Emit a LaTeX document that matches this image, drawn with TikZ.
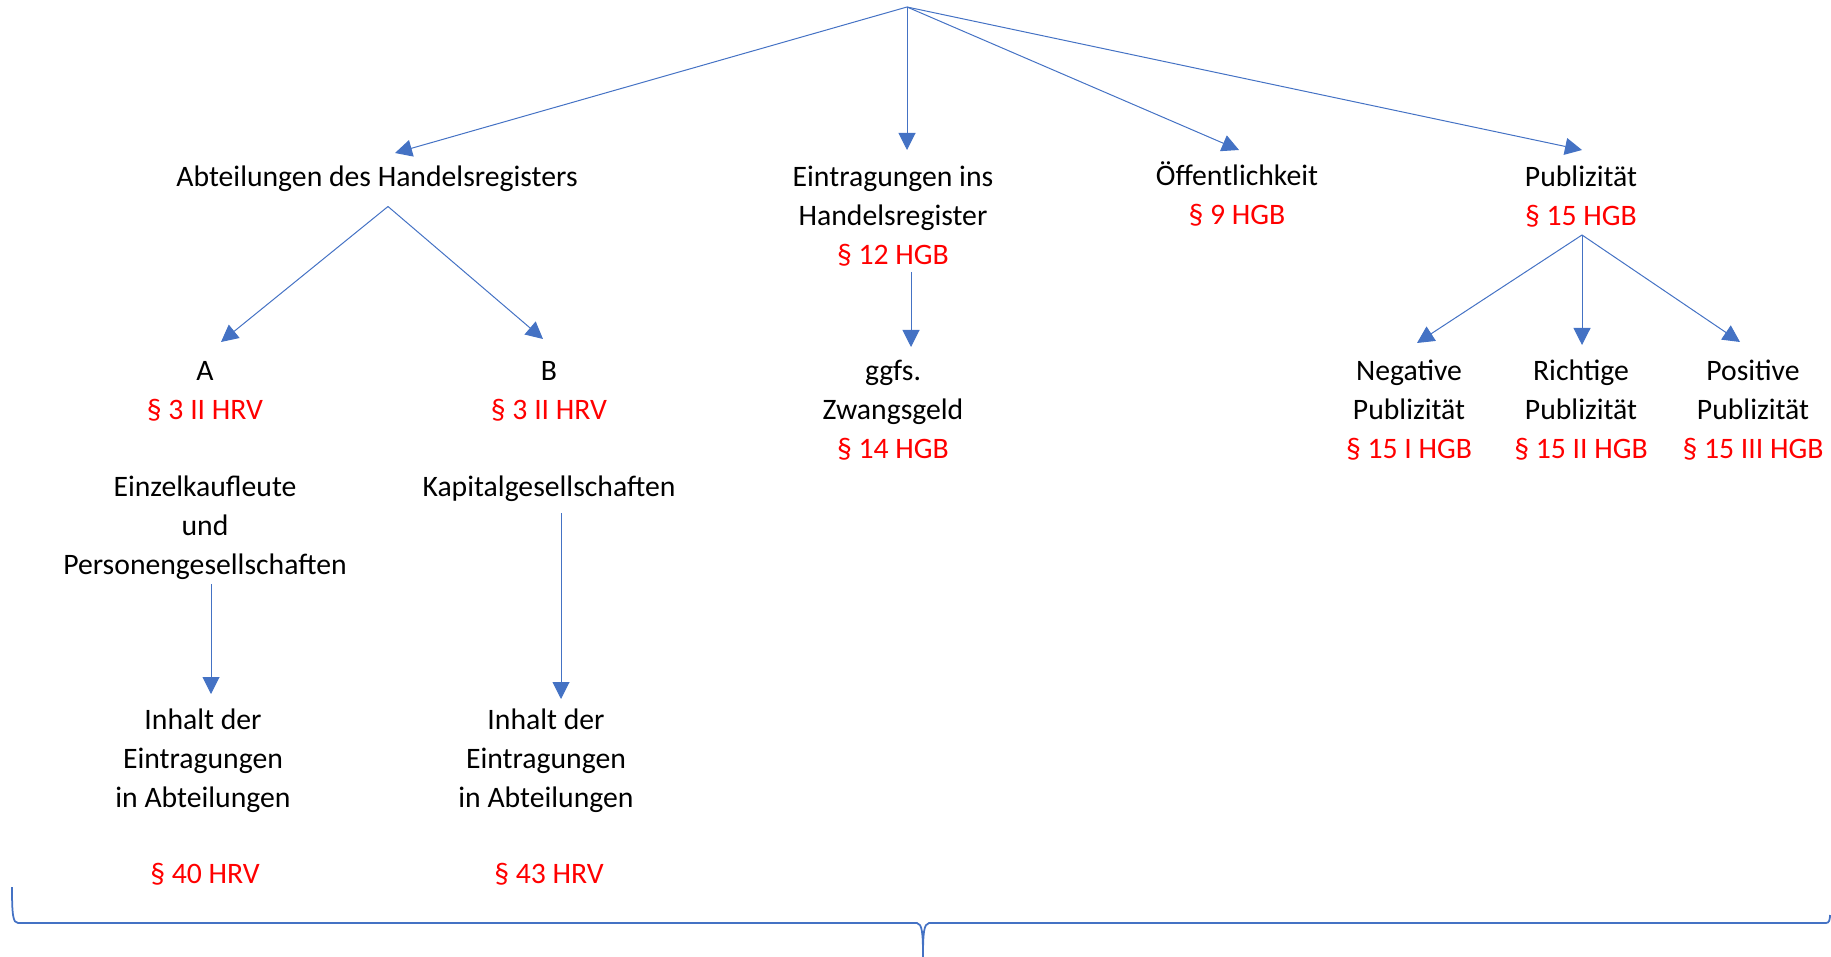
\documentclass[tikz,border=0pt]{standalone}
\usepackage{fontspec}
\setmainfont{Carlito}
\usepackage{xcolor}
\usetikzlibrary{arrows.meta,positioning,calc}

\definecolor{lineblue}{RGB}{68,114,196}
\newcommand{\para}[1]{\textcolor{red}{#1}}

\begin{document}
\begin{tikzpicture}[x=0.2mm, y=-0.2mm,
  txt/.style={align=center, inner sep=0pt, font=\fontsize{16.9}{22.2}\selectfont,
    execute at begin node=\strut, execute at end node=\strut},
  every node/.style={txt},
  arr/.style={-{Triangle[length=3.4mm,width=3.4mm]}, lineblue, line width=0.2mm}]

\useasboundingbox (0,0) rectangle (1831,957);

% Root point
\coordinate (top) at (907,7);

% First level
\node (abt) at (377,179) {Abteilungen des Handelsregisters};
\node (eintr) at (893,221.5) {Eintragungen ins\\Handelsregister\\\para{§ 12 HGB}};
\node (oeff) at (1237,198.5) {Öffentlichkeit\\\para{§ 9 HGB}};
\node (publ) at (1581,201.5) {Publizität\\\para{§ 15 HGB}};

\draw[arr] (top) -- ($(abt)+(18,-26)$);
\draw[arr] (top) -- ($(eintr)+(14,-71.5)$);
\draw[arr] (top) -- ($(oeff)+(2,-48.5)$);
\draw[arr] (top) -- ($(publ)+(1,-51.5)$);

% Register divisions A and B
\node (abtA) at (205,396.5) {A\\\para{§ 3 II HRV}};
\node (abtB) at (549,396.5) {B\\\para{§ 3 II HRV}};
\coordinate (gabel) at ($(abt)+(11,27.5)$);
\draw[arr] (gabel) -- ($(abtA)+(16,-54.5)$);
\draw[arr] (gabel) -- ($(abtB)+(-6,-57.5)$);

\node (einzel) at (205,531) {Einzelkaufleute\\und\\Personengesellschaften};
\node (kapital) at (549,489) {Kapitalgesellschaften};

% Contents of the entries
\node (inhA) at (203,764) {Inhalt der\\Eintragungen\\in Abteilungen};
\node (inhB) at (546,764) {Inhalt der\\Eintragungen\\in Abteilungen};
\node (hrvA) at (205,876) {\para{§ 40 HRV}};
\node (hrvB) at (549,876) {\para{§ 43 HRV}};

\draw[arr] ($(einzel)+(6,53)$) -- ($(inhA)+(8,-70)$);
\draw[arr] ($(kapital)+(12,24)$) -- ($(inhB)+(15,-65)$);

% Penalty
\node (zwang) at (893,415) {ggfs.\\Zwangsgeld\\\para{§ 14 HGB}};
\draw[arr] ($(eintr)+(18,50.5)$) -- ($(zwang)+(18,-68)$);

% Kinds of publicity
\node (neg) at (1409,415) {Negative\\Publizität\\\para{§ 15 I HGB}};
\node (richt) at (1581,415) {Richtige\\Publizität\\\para{§ 15 II HGB}};
\node (pos) at (1753,415) {Positive\\Publizität\\\para{§ 15 III HGB}};

\coordinate (pgabel) at ($(publ)+(1,33.5)$);
\draw[arr] (pgabel) -- ($(neg)+(8,-72)$);
\draw[arr] (pgabel) -- ($(richt)+(1,-70)$);
\draw[arr] (pgabel) -- ($(pos)+(-13,-73)$);

% Brace at the bottom
\draw[lineblue, line width=0.35mm] (12,887) .. controls (12,915) and (13,923) .. (18,923) -- (917,923)
  .. controls (922,924) and (923,932) .. (923,957);
\draw[lineblue, line width=0.35mm] (923,957) .. controls (923,932) and (924,924) .. (929,923) -- (1826,923)
  .. controls (1829,923) and (1830,920) .. (1830,915);

\end{tikzpicture}
\end{document}
